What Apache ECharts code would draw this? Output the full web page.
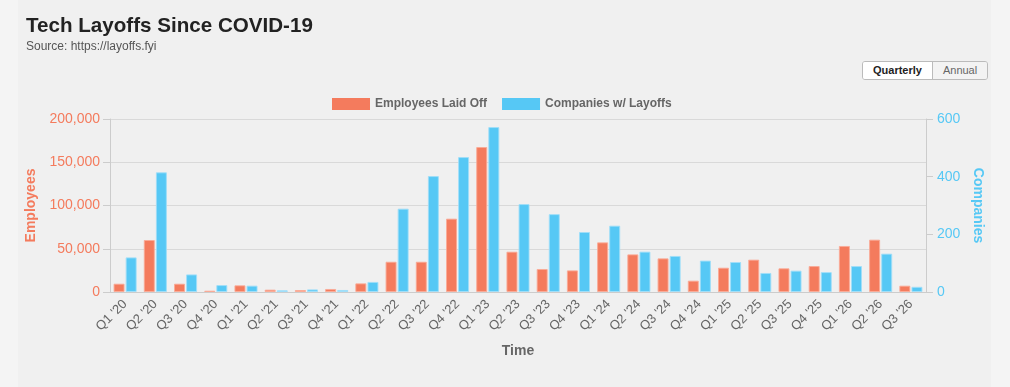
<!DOCTYPE html>
<html>
<head>
<meta charset="utf-8">
<script src="https://cdn.jsdelivr.net/npm/echarts@6/dist/echarts.min.js"></script>
<style>
  html, body { margin: 0; padding: 0; background: #f4f4f4; font-family: "Liberation Sans", Arial, sans-serif; }
  #card { position: absolute; left: 18px; top: 0; width: 973px; height: 387px; background: #f0f0f0; }
  #chart { position: absolute; left: 0; top: 0; width: 1010px; height: 387px; }
  h1 { position: absolute; left: 26px; top: 13px; margin: 0; font-size: 20.6px; font-weight: bold; color: #222; }
  .src { position: absolute; left: 26px; top: 39px; font-size: 12px; color: #555; }
  .toggle { position: absolute; left: 862px; top: 61px; display: flex; border: 1px solid #bbb; border-radius: 3px; overflow: hidden; }
  .toggle span { font-size: 11px; padding: 2px 10px 2px 10px; line-height: 13px; }
  .toggle .on { background: #fff; color: #222; font-weight: bold; border-right: 1px solid #bbb; }
  .toggle .off { background: #f3f3f3; color: #666; }
</style>
</head>
<body>
<div id="card"></div>
<div id="chart"></div>
<h1>Tech Layoffs Since COVID-19</h1>
<div class="src">Source: https://layoffs.fyi</div>
<div class="toggle"><span class="on">Quarterly</span><span class="off">Annual</span></div>
<script>
const quarters = [
  "Q1 '20", "Q2 '20", "Q3 '20", "Q4 '20", "Q1 '21", "Q2 '21", "Q3 '21", "Q4 '21",
  "Q1 '22", "Q2 '22", "Q3 '22", "Q4 '22", "Q1 '23", "Q2 '23", "Q3 '23", "Q4 '23",
  "Q1 '24", "Q2 '24", "Q3 '24", "Q4 '24", "Q1 '25", "Q2 '25", "Q3 '25", "Q4 '25",
  "Q1 '26", "Q2 '26", "Q3 '26"
];
const employeesLaidOff = [
  9600, 60100, 9600, 1500, 7700, 2700, 2300, 3500,
  10000, 35000, 35000, 84800, 167600, 46600, 26600, 25000,
  57400, 43500, 38900, 13100, 28100, 37400, 27400, 30000,
  53200, 60500, 7300
];
const companiesWithLayoffs = [
  120, 415, 61, 24, 22, 6, 9, 7,
  35, 289, 402, 468, 572, 305, 270, 208,
  230, 140, 125, 109, 104, 66, 74, 69,
  90, 133, 18
];

const ORANGE = "#f47b5d";
const BLUE = "#56c8f5";
const FONT = "Liberation Sans";

const chart = echarts.init(document.getElementById("chart"));
chart.setOption({
  animation: false,
  textStyle: { fontFamily: FONT },
  legend: {
    left: 327,
    top: 93,
    itemWidth: 38,
    itemHeight: 12,
    itemGap: 15,
    icon: "rect",
    itemStyle: { borderWidth: 0 },
    textStyle: { fontFamily: FONT, fontSize: 12, fontWeight: "bold", color: "#666" },
  },
  grid: { left: 110, right: 84, top: 119, bottom: 95 },
  xAxis: {
    type: "category",
    data: quarters,
    name: "Time",
    nameLocation: "middle",
    nameGap: 52,
    nameTextStyle: { fontFamily: FONT, fontSize: 14, fontWeight: "bold", color: "#666" },
    axisLine: { lineStyle: { color: "#ccc" } },
    axisTick: { show: false },
    axisLabel: { rotate: 45, interval: 0, margin: 10, fontFamily: FONT, fontSize: 13, color: "#666" },
  },
  yAxis: [
    {
      type: "value",
      min: 0,
      max: 200000,
      interval: 50000,
      name: "Employees",
      nameLocation: "middle",
      nameGap: 68,
      nameTextStyle: { fontFamily: FONT, fontSize: 14, fontWeight: "bold", color: ORANGE },
      axisLine: { show: true, lineStyle: { color: "#ccc" } },
      axisTick: { show: true, length: 7, lineStyle: { color: "#ccc" } },
      splitLine: { lineStyle: { color: "#d9d9d9" } },
      axisLabel: {
        margin: 10,
        fontFamily: FONT,
        fontSize: 14,
        color: ORANGE,
        formatter: (v) => v.toLocaleString("en-US"),
      },
    },
    {
      type: "value",
      min: 0,
      max: 600,
      interval: 200,
      name: "Companies",
      nameLocation: "middle",
      nameRotate: -90,
      nameGap: 42,
      nameTextStyle: { fontFamily: FONT, fontSize: 14, fontWeight: "bold", color: BLUE },
      axisLine: { show: true, lineStyle: { color: "#ccc" } },
      axisTick: { show: true, length: 7, lineStyle: { color: "#ccc" } },
      splitLine: { show: false },
      axisLabel: { margin: 11, fontFamily: FONT, fontSize: 14, color: BLUE },
    },
  ],
  series: [
    {
      name: "Employees Laid Off",
      type: "bar",
      yAxisIndex: 0,
      data: employeesLaidOff,
      barWidth: 11,
      barGap: "10%",
      itemStyle: { color: ORANGE, borderColor: "rgba(249,170,150,0.9)", borderWidth: 1 },
    },
    {
      name: "Companies w/ Layoffs",
      type: "bar",
      yAxisIndex: 1,
      data: companiesWithLayoffs,
      barWidth: 11,
      itemStyle: { color: BLUE, borderColor: "rgba(160,222,248,0.9)", borderWidth: 1 },
    },
  ],
});
</script>
</body>
</html>
